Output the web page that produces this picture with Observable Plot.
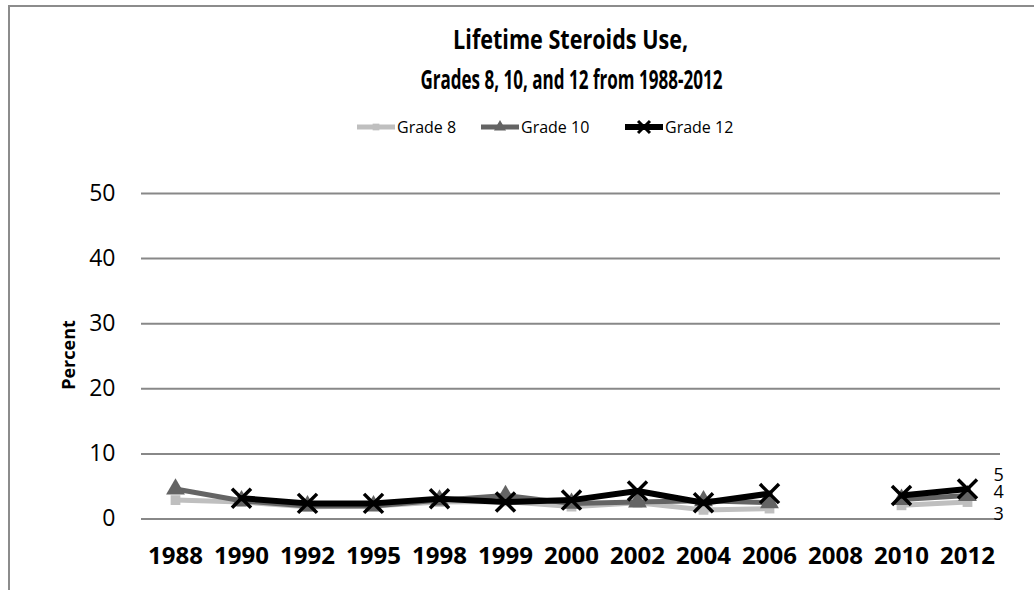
<!DOCTYPE html>
<html><head><meta charset="utf-8">
<script src="https://cdn.jsdelivr.net/npm/d3@7"></script>
<script src="https://cdn.jsdelivr.net/npm/@observablehq/plot@0.6"></script>
<style>
body{margin:0;background:#fff;font-family:"Open Sans",sans-serif;width:1034px;height:590px;overflow:hidden;position:relative}
#frame{position:absolute;left:8px;top:5px;width:1200px;height:700px;border:2px solid #8c8c8c;box-sizing:border-box}
.tl{position:absolute;left:171px;width:800px;text-align:center;font-weight:bold;font-size:26px;line-height:30px;color:#000}
.tl span{display:inline-block;white-space:nowrap;transform-origin:50% 50%}
.leg{position:absolute;top:116px;display:flex;align-items:center;font-size:16px;color:#000;white-space:nowrap}
.leg svg{margin-right:2px}
#ylab{position:absolute;left:68px;top:355px;transform:translate(-50%,-50%) rotate(-90deg);font-weight:bold;font-size:18px;white-space:nowrap}
#chart{position:absolute;left:0;top:150px}
</style></head>
<body>
<div id="frame"></div>
<div class="tl" style="top:24px"><span id="t1" data-w="235">Lifetime Steroids Use,</span></div>
<div class="tl" style="top:64px"><span id="t2" data-w="302">Grades 8, 10, and 12 from 1988-2012</span></div>
<div id="legend"></div>
<div id="ylab">Percent</div>
<div id="chart"></div>
<script>
const years = ["1988","1990","1992","1995","1998","1999","2000","2002","2004","2006","2008","2010","2012"];
const grade8  = [2.9, 2.6, 1.9, 2.0, 2.6, 2.7, 1.9, 2.5, 1.4, 1.6, null, 2.1, 2.6];
const grade10 = [4.6, 2.8, 2.0, 2.0, 2.9, 3.6, 2.4, 2.6, 2.8, 2.5, null, 3.0, 3.6];
const grade12 = [null, 3.2, 2.4, 2.4, 3.1, 2.6, 2.9, 4.3, 2.5, 3.9, null, 3.6, 4.6];
const yTicks = [0, 10, 20, 30, 40, 50];
const seriesNames = ["Grade 8", "Grade 10", "Grade 12"];

const styles = {
  "Grade 8":  {color:"#bfbfbf", width:5, symbol:"square", r:5.5, lr:3.8, labelDy:12, legendLeft:357},
  "Grade 10": {color:"#646464", width:5, symbol:"triangle", r:7, lr:4.5, labelDy:-3, legendLeft:481},
  "Grade 12": {color:"#000000", width:6, symbol:"times", r:8.7, lr:5.5, labelDy:-14, legendLeft:625}
};
const valuesByName = {"Grade 8":grade8, "Grade 10":grade10, "Grade 12":grade12};

// fit the title lines to the reference widths
for (const id of ["t1","t2"]) {
  const el = document.getElementById(id);
  const w = el.getBoundingClientRect().width;
  el.style.transform = `scaleX(${(+el.dataset.w) / w})`;
}

const marks = [
  Plot.ruleY(yTicks, {stroke:"#888", strokeWidth:2}),
  Plot.axisY({ticks:yTicks, tickSize:0, tickPadding:26, fontSize:23, label:null}),
  Plot.axisX({tickSize:0, tickPadding:28, fontSize:24, fontWeight:"bold", label:null})
];
for (const name of seriesNames) {
  const s = styles[name];
  const rows = years.map((yr, i) => ({year:yr, v:valuesByName[name][i]}));
  marks.push(Plot.line(rows, {x:"year", y:"v", stroke:s.color, strokeWidth:s.width, strokeLinejoin:"round"}));
  const pts = rows.filter(d => d.v != null);
  if (s.symbol === "times") {
    marks.push(Plot.dot(pts, {x:"year", y:"v", symbol:"times", r:s.r, stroke:s.color, strokeWidth:3.5}));
  } else {
    marks.push(Plot.dot(pts, {x:"year", y:"v", symbol:s.symbol, r:s.r, fill:s.color, stroke:"none"}));
  }
}
for (const name of seriesNames) {
  const s = styles[name];
  const last = [{year:years[years.length-1], v:valuesByName[name][years.length-1]}];
  marks.push(Plot.text(last, {x:"year", y:"v", text:d => String(Math.round(d.v)), dx:26, dy:s.labelDy, textAnchor:"start", fontSize:18, fill:"#000"}));
}

const chart = Plot.plot({
  width:1034, height:430,
  marginLeft:141, marginRight:34, marginTop:43, marginBottom:61.5,
  x:{type:"point", domain:years, padding:0.5},
  y:{domain:[0,50]},
  style:{fontFamily:"Open Sans", color:"#000", background:"transparent"},
  marks
});
document.getElementById("chart").appendChild(chart);

// legend
const leg = document.getElementById("legend");
for (const name of seriesNames) {
  const s = styles[name];
  const div = document.createElement("div");
  div.className = "leg";
  div.style.left = s.legendLeft + "px";
  const ns = "http://www.w3.org/2000/svg";
  const svg = document.createElementNS(ns, "svg");
  svg.setAttribute("width", 38); svg.setAttribute("height", 20);
  const line = document.createElementNS(ns, "line");
  line.setAttribute("x1", 0); line.setAttribute("x2", 38); line.setAttribute("y1", 10); line.setAttribute("y2", 10);
  line.setAttribute("stroke", s.color); line.setAttribute("stroke-width", s.width);
  svg.appendChild(line);
  const sym = {square:d3.symbolSquare, triangle:d3.symbolTriangle, times:d3.symbolTimes}[s.symbol];
  const p = document.createElementNS(ns, "path");
  p.setAttribute("d", d3.symbol(sym, Math.PI * s.lr * s.lr)());
  p.setAttribute("transform", "translate(19,10)");
  if (s.symbol === "times") { p.setAttribute("fill","none"); p.setAttribute("stroke", s.color); p.setAttribute("stroke-width", 3); }
  else p.setAttribute("fill", s.color);
  svg.appendChild(p);
  div.appendChild(svg);
  const t = document.createElement("span");
  t.textContent = name;
  div.appendChild(t);
  leg.appendChild(div);
}
</script>
</body></html>
